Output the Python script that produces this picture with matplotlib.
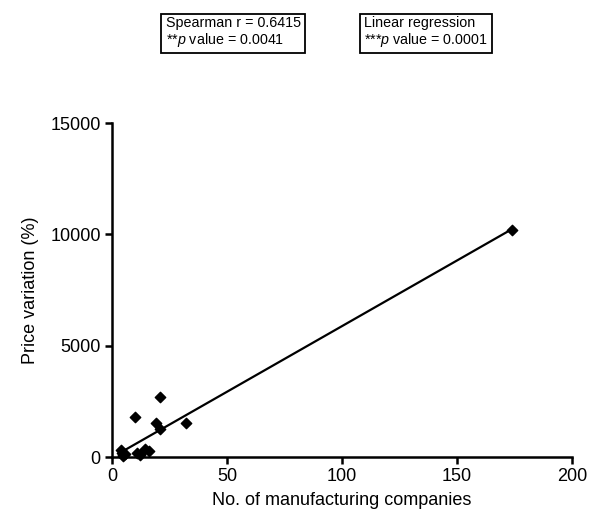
import numpy as np
import matplotlib
matplotlib.use("Agg")
import matplotlib.pyplot as plt

plt.rcParams['font.family'] = ['Liberation Sans', 'DejaVu Sans']
plt.rcParams['mathtext.fontset'] = 'custom'
plt.rcParams['mathtext.it'] = 'Liberation Sans:italic'
plt.rcParams['mathtext.rm'] = 'Liberation Sans'

companies = [174, 20.9, 10, 19, 21, 32, 16, 14.3, 10.7, 12.2, 3.8, 4.6, 5.7, 4.2, 5.0]
price_var = [10200, 2680, 1790, 1510, 1240, 1510, 270, 345, 166, 90, 314, 90, 135, 180, 60]

x_ticks = [0, 50, 100, 150, 200]
y_ticks = [0, 5000, 10000, 15000]

fig = plt.figure(figsize=(5.9, 5.21), dpi=100)
ax = fig.add_axes([0.1898, 0.1228, 0.7797, 0.6411])

x = np.array(companies)
y = np.array(price_var)
ax.scatter(x, y, marker='D', s=28, color='black', zorder=3, clip_on=False)
slope, intercept = np.polyfit(x, y, 1)
xl = np.array([x.min(), x.max()])
ax.plot(xl, slope * xl + intercept, color='black', lw=1.6)

ax.set_xlim(0, 200)
ax.set_ylim(0, 15000)
ax.set_xticks(x_ticks)
ax.set_yticks(y_ticks)
for s in ['top', 'right']:
    ax.spines[s].set_visible(False)
for s in ['left', 'bottom']:
    ax.spines[s].set_linewidth(1.8)
ax.tick_params(width=1.8, length=5, labelsize=13, direction='out', pad=3)
ax.set_xlabel('No. of manufacturing companies', fontsize=13, labelpad=5)
ax.set_ylabel('Price variation (%)', fontsize=13, labelpad=8)

bbox = dict(boxstyle='square,pad=0.3', fc='white', ec='black', lw=1.3)
fig.text(0.281, 0.937, 'Spearman r = 0.6415\n**$p$ value = 0.0041', fontsize=10.3,
         va='center', ha='left', bbox=bbox, linespacing=1.05)
fig.text(0.617, 0.937, 'Linear regression\n***$p$ value = 0.0001', fontsize=10.3,
         va='center', ha='left', bbox=bbox, linespacing=1.05)

fig.savefig('out.png', dpi=100)
